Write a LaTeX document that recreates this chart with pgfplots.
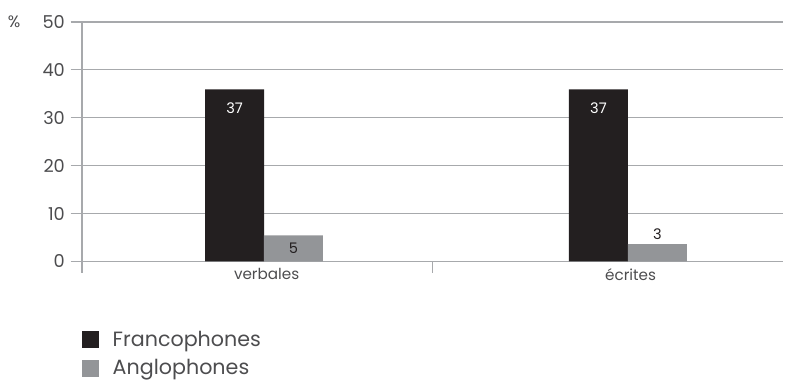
\documentclass[border=0pt]{standalone}
\usepackage{pgfplots}
\pgfplotsset{compat=1.18}
\usepackage{fontspec}
\setmainfont{Poppins}[Scale=0.95]
\definecolor{franco}{HTML}{231F20}
\definecolor{anglo}{HTML}{939598}
\definecolor{gridc}{HTML}{A7A9AC}
\definecolor{txt}{HTML}{4D4D4F}
\begin{document}
\begin{tikzpicture}
\useasboundingbox (-61.5pt,-91.1pt) rectangle (531.75pt,196.1pt);
\begin{axis}[
  scale only axis,
  width=525.75pt, height=179.6pt,
  xmin=-0.5, xmax=1.426,
  ymin=0, ymax=50,
  ytick={0,10,20,30,40,50},
  xtick={-0.5,0.464},
  xticklabels={},
  extra x ticks={0,1},
  extra x tick labels={verbales,écrites},
  extra x tick style={major tick length=0pt, tick label style={font=\fontsize{12}{13}\selectfont, text=txt, yshift=-2pt, xshift=2pt}},
  axis lines=left,
  axis line style={-, gridc, line width=0.8pt},
  tick style={gridc, line width=0.8pt},
  tick align=outside,
  major tick length=8.5pt,
  ymajorgrids,
  grid style={gridc, line width=0.8pt},
  yticklabel style={font=\fontsize{14}{16}\selectfont, text=txt, xshift=-1pt},
  /pgf/number format/assume math mode=true,
  ybar, bar width=44.25pt,
  legend style={at={(axis description cs:-0.006,-0.268)}, anchor=north west, draw=none, fill=none,
    font=\fontsize{16.3}{18}\selectfont, text=txt, row sep=4.3pt,
    legend cell align=left},
  legend image code/.code={\fill[#1] (0pt,-6.4pt) rectangle (12.75pt,6.4pt); \path[draw=none,fill=none] (0pt,-1pt) rectangle (21pt,1pt);},
  clip=false,
]
\addplot[fill=franco, draw=none, bar shift=-22.1pt] coordinates {(0,35.95) (1,35.95)};
\addplot[fill=anglo, draw=none, bar shift=22.1pt] coordinates {(0,5.45) (1,3.6)};
\legend{Francophones, Anglophones}
\node[text=white, font=\fontsize{11.5}{12}\selectfont, xshift=-22.1pt, yshift=-14pt] at (axis cs:0,35.95) {37};
\node[text=white, font=\fontsize{11.5}{12}\selectfont, xshift=-22.1pt, yshift=-14pt] at (axis cs:1,35.95) {37};
\node[text=franco, font=\fontsize{11.5}{12}\selectfont, xshift=22.1pt] at (axis cs:0,2.72) {5};
\node[text=franco, font=\fontsize{11.5}{12}\selectfont, xshift=22.1pt, yshift=7.5pt] at (axis cs:1,3.6) {3};
\node[text=txt, font=\fontsize{13}{14}\selectfont, anchor=west] at (rel axis cs:-0.112,1) {\%};
\end{axis}
\end{tikzpicture}
\end{document}
